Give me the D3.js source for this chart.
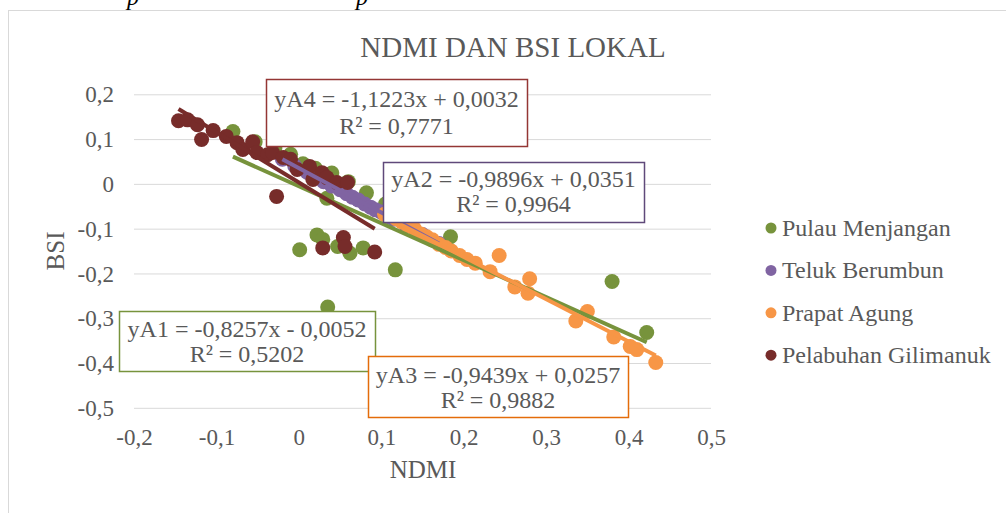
<!DOCTYPE html>
<html>
<head>
<meta charset="utf-8">
<script src="https://cdn.jsdelivr.net/npm/d3@7"></script>
<style>
  html, body { margin: 0; padding: 0; background: #fff; }
  svg { display: block; }
  svg text { font-family: "Liberation Serif", "Times New Roman", serif; }
</style>
</head>
<body>
<svg id="chart" width="1006" height="513" font-family="Liberation Serif, Times New Roman, serif"></svg>
<script>
// NDMI (x) vs BSI (y) per location
const pulauMenjanganX = [-0.080, -0.053, -0.029, -0.010, 0.005, 0.020, 0.040, 0.060, 0.082, 0.105, 0.034, 0.001, 0.022, 0.029, 0.047, 0.062, 0.078, 0.117, 0.035, 0.184, 0.380, 0.422];
const pulauMenjanganY = [0.117, 0.094, 0.080, 0.066, 0.045, 0.035, 0.024, 0.005, -0.020, -0.045, -0.032, -0.147, -0.114, -0.124, -0.140, -0.155, -0.143, -0.192, -0.275, -0.118, -0.218, -0.332];

const telukBerumbunX = [-0.020, -0.005, 0.010, 0.020, 0.030, 0.040, 0.050, 0.058, 0.065, 0.072, 0.080, 0.087, 0.093, 0.100, 0.105, 0.110, 0.115, 0.130, 0.150, 0.170];
const telukBerumbunY = [0.055, 0.040, 0.026, 0.016, 0.005, -0.005, -0.013, -0.022, -0.030, -0.036, -0.045, -0.052, -0.058, -0.063, -0.068, -0.074, -0.079, -0.093, -0.113, -0.133];

const prapatAgungX = [0.104, 0.118, 0.125, 0.132, 0.140, 0.148, 0.155, 0.162, 0.170, 0.178, 0.185, 0.195, 0.204, 0.214, 0.232, 0.243, 0.262, 0.278, 0.280, 0.336, 0.350, 0.382, 0.402, 0.410, 0.433];
const prapatAgungY = [-0.068, -0.078, -0.085, -0.093, -0.100, -0.112, -0.118, -0.125, -0.135, -0.142, -0.150, -0.160, -0.169, -0.177, -0.196, -0.160, -0.230, -0.244, -0.212, -0.306, -0.285, -0.342, -0.363, -0.370, -0.399];

const gilimanukX = [-0.146, -0.135, -0.123, -0.118, -0.104, -0.088, -0.075, -0.068, -0.056, -0.051, -0.038, -0.032, -0.027, -0.019, -0.010, -0.002, 0.013, 0.017, 0.028, 0.034, 0.046, 0.059, 0.029, 0.054, 0.056, 0.092];
const gilimanukY = [0.141, 0.143, 0.132, 0.099, 0.119, 0.106, 0.092, 0.077, 0.094, 0.070, 0.065, 0.070, -0.028, 0.059, 0.055, 0.032, 0.039, 0.010, 0.025, 0.014, 0.003, 0.003, -0.143, -0.120, -0.140, -0.152];

// Linear trendline coefficients (slope, intercept) and R²
const seriesNames = ["Pulau Menjangan", "Teluk Berumbun", "Prapat Agung", "Pelabuhan Gilimanuk"];
const seriesColors = ["#77933c", "#8064a2", "#f79646", "#772c2a"];
const boxColors = ["#77933c", "#5f497a", "#e46c0a", "#943634"];
const trendSlope = [-0.8257, -0.9896, -0.9439, -1.1223];
const trendIntercept = [-0.0052, 0.0351, 0.0257, 0.0032];
const equationLabels = ["yA1 = -0,8257x - 0,0052", "yA2 = -0,9896x + 0,0351", "yA3 = -0,9439x + 0,0257", "yA4 = -1,1223x + 0,0032"];
const r2Labels = ["R² = 0,5202", "R² = 0,9964", "R² = 0,9882", "R² = 0,7771"];

const xTicks = [-0.2, -0.1, 0, 0.1, 0.2, 0.3, 0.4, 0.5];
const yTicks = [-0.5, -0.4, -0.3, -0.2, -0.1, 0, 0.1, 0.2];

const xs = [pulauMenjanganX, telukBerumbunX, prapatAgungX, gilimanukX];
const ys = [pulauMenjanganY, telukBerumbunY, prapatAgungY, gilimanukY];
const series = seriesNames.map((name, i) => ({
  name, color: seriesColors[i], box: boxColors[i],
  slope: trendSlope[i], intercept: trendIntercept[i],
  eq: equationLabels[i], r2: r2Labels[i],
  points: xs[i].map((x, j) => ({ x, y: ys[i][j] }))
}));

const svg = d3.select("#chart");
const textColor = "#595959";
const serif = "Liberation Serif, Times New Roman, serif";
const fmt = v => (Math.abs(v) < 1e-9 ? "0" : d3.format(".1f")(v).replace("−", "-").replace(".", ","));

// Fragment of the page text above the chart frame
svg.append("g").attr("font-style", "italic").attr("font-size", 24).attr("fill", "#000")
  .attr("font-family", serif)
  .selectAll("text").data([133, 362]).join("text")
  .attr("x", d => d - 6).attr("y", 5).text("p");

// Chart frame
svg.append("rect").attr("x", 8.5).attr("y", 10.5).attr("width", 1100).attr("height", 600)
  .attr("fill", "#fff").attr("stroke", "#d9d9d9").attr("stroke-width", 1);

const x = d3.scaleLinear().domain([-0.2, 0.5]).range([134, 711]);
const y = d3.scaleLinear().domain([-0.5, 0.2]).range([407.8, 94.3]);

// Horizontal gridlines
svg.append("g")
  .attr("transform", `translate(${x.range()[0]},0)`)
  .call(d3.axisLeft(y).tickValues(yTicks).tickSize(-(x.range()[1] - x.range()[0])).tickFormat(""))
  .call(g => g.select(".domain").remove())
  .call(g => g.selectAll("line").attr("stroke", "#d9d9d9").attr("stroke-width", 1));

// Y tick labels
svg.append("g")
  .attr("transform", `translate(${x.range()[0] - 17},0)`)
  .call(d3.axisLeft(y).tickValues(yTicks).tickSize(0).tickFormat(fmt))
  .call(g => g.select(".domain").remove())
  .call(g => g.selectAll("text").attr("fill", textColor).attr("font-size", 23)
    .attr("font-family", serif).attr("dy", "0.33em"));

// X tick labels
svg.append("g")
  .attr("transform", `translate(0,${y.range()[0] + 18})`)
  .call(d3.axisBottom(x).tickValues(xTicks).tickSize(0).tickFormat(fmt))
  .call(g => g.select(".domain").remove())
  .call(g => g.selectAll("text").attr("fill", textColor).attr("font-size", 23)
    .attr("font-family", serif));

// Title and axis titles
svg.append("text").attr("x", 513).attr("y", 57).attr("text-anchor", "middle")
  .attr("font-family", serif).attr("font-size", 29).attr("fill", textColor).text("NDMI DAN BSI LOKAL");
svg.append("text").attr("x", 423).attr("y", 478).attr("text-anchor", "middle")
  .attr("font-family", serif).attr("font-size", 25).attr("fill", textColor).text("NDMI");
svg.append("text").attr("transform", "translate(64,251) rotate(-90)").attr("text-anchor", "middle")
  .attr("font-family", serif).attr("font-size", 25).attr("fill", textColor).text("BSI");

// Markers
series.forEach(s => {
  svg.append("g").selectAll("circle").data(s.points).join("circle")
    .attr("cx", d => x(d.x)).attr("cy", d => y(d.y)).attr("r", 7.5)
    .attr("fill", s.color);
});

// Linear trendlines across each series' NDMI range
series.forEach(s => {
  const [x0, x1] = d3.extent(s.points, d => d.x);
  svg.append("line")
    .attr("x1", x(x0)).attr("y1", y(s.slope * x0 + s.intercept))
    .attr("x2", x(x1)).attr("y2", y(s.slope * x1 + s.intercept))
    .attr("stroke", s.color).attr("stroke-width", 4);
});

// Equation boxes with the baselines of their two lines
const boxes = [
  { x0: 119, y0: 311, x1: 375, y1: 371, b1: 337, b2: 362 },
  { x0: 383, y0: 162, x1: 644, y1: 222, b1: 187, b2: 212 },
  { x0: 368, y0: 356, x1: 628, y1: 417, b1: 383, b2: 408 },
  { x0: 266, y0: 79, x1: 527, y1: 146, b1: 107, b2: 134 }
];
series.forEach((s, i) => {
  const b = boxes[i];
  const g = svg.append("g");
  g.append("rect").attr("x", b.x0 + 0.5).attr("y", b.y0 + 0.5)
    .attr("width", b.x1 - b.x0).attr("height", b.y1 - b.y0)
    .attr("fill", "#fff").attr("stroke", s.box).attr("stroke-width", 1.5);
  const cx = (b.x0 + b.x1) / 2;
  g.append("text").attr("x", cx).attr("y", b.b1).attr("text-anchor", "middle")
    .attr("font-family", serif).attr("font-size", 24).attr("fill", textColor).text(s.eq);
  g.append("text").attr("x", cx).attr("y", b.b2).attr("text-anchor", "middle")
    .attr("font-family", serif).attr("font-size", 24).attr("fill", textColor).text(s.r2);
});

// Legend
const legend = svg.append("g");
series.forEach((s, i) => {
  const ly = 228 + i * 42.4;
  legend.append("circle").attr("cx", 771).attr("cy", ly).attr("r", 5.5).attr("fill", s.color);
  legend.append("text").attr("x", 782).attr("y", ly + 8).attr("font-family", serif)
    .attr("font-size", 24).attr("fill", textColor).text(s.name);
});
</script>
</body>
</html>
